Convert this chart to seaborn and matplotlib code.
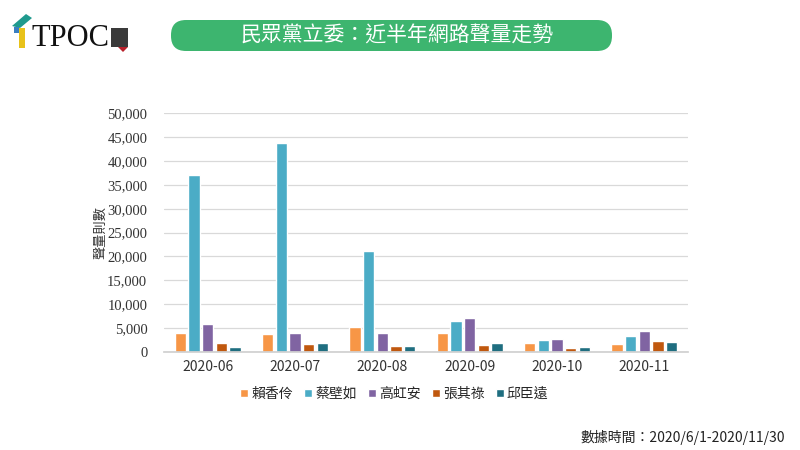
import numpy as np
import pandas as pd
import matplotlib.pyplot as plt
import seaborn as sns
from matplotlib.patches import FancyBboxPatch, Rectangle, Polygon

months = ['2020-06', '2020-07', '2020-08', '2020-09', '2020-10', '2020-11']
names = ['賴香伶', '蔡壁如', '高虹安', '張其祿', '邱臣遠']
lai = [4000, 3800, 5200, 4000, 1800, 1600]
tsai = [37000, 43700, 21100, 6400, 2500, 3300]
kao = [5800, 4000, 4000, 7100, 2700, 4300]
chang = [1800, 1650, 1250, 1500, 900, 2300]
chiu = [1050, 1800, 1250, 1900, 1100, 2100]
colors = ['#F79646', '#4BACC6', '#8064A2', '#C0580E', '#1F6E80']

df = pd.DataFrame({'月份': months * 5,
                   '姓名': sum([[n] * 6 for n in names], []),
                   '聲量': lai + tsai + kao + chang + chiu})

sns.set_theme(style='white')
plt.rcParams['font.family'] = ['Noto Sans CJK TC', 'DejaVu Sans']

fig = plt.figure(figsize=(8, 4.5), dpi=100)

# overlay in pixel coords for decorations
deco = fig.add_axes([0, 0, 1, 1])
deco.set_xlim(0, 800)
deco.set_ylim(450, 0)
deco.axis('off')

ax = fig.add_axes([0.205, 0.218, 0.655, 0.53])

sns.barplot(data=df, x='月份', y='聲量', hue='姓名', palette=colors,
            width=0.78, gap=0.16, ax=ax, saturation=1)

ax.set_ylim(0, 50000)
ax.set_yticks(np.arange(0, 50001, 5000))
ax.set_yticklabels([f'{v:,}' for v in range(0, 50001, 5000)], fontsize=10.5,
                   color='#333333', family='Liberation Serif')
ax.tick_params(axis='x', labelsize=10, colors='#333333', length=0, pad=6)
ax.tick_params(axis='y', length=0, pad=12)
ax.grid(axis='y', color='#d9d9d9', linewidth=0.9)
ax.set_axisbelow(True)
for s in ['top', 'right', 'left']:
    ax.spines[s].set_visible(False)
ax.spines['bottom'].set_color('#d0d0d0')
ax.set_xlabel('')
ax.set_ylabel('聲量則數', fontsize=9.5, color='#333333', labelpad=0)

ax.legend(loc='upper center', bbox_to_anchor=(0.44, -0.095), ncol=5, frameon=False,
          fontsize=10, handlelength=0.55, handleheight=0.55, handletextpad=0.25,
          columnspacing=0.8)

# title banner
deco.add_patch(FancyBboxPatch((171, 20), 441, 31,
                              boxstyle='round,pad=0,rounding_size=15',
                              facecolor='#3DB56F', edgecolor='none'))
deco.text(397, 36, '民眾黨立委：近半年網路聲量走勢', ha='center', va='center',
          fontsize=15, color='white')

# logo
deco.add_patch(Polygon([[12, 26], [26, 14], [32, 18], [20, 28]], closed=True,
                       facecolor='#1F9A8E', edgecolor='none'))
deco.add_patch(Rectangle((19, 28), 6, 20, facecolor='#E8C21A', edgecolor='none'))
deco.add_patch(Rectangle((14, 27), 5, 6, facecolor='#3A7FC1', edgecolor='none'))
deco.text(31, 38, 'TPOC', fontsize=22, family='Liberation Serif',
          color='#111111', va='center', ha='left')
deco.add_patch(Rectangle((111, 28), 17, 19, facecolor='#3a3a3a', edgecolor='none'))
deco.add_patch(Polygon([[118, 47], [128, 47], [123, 52]], closed=True,
                       facecolor='#B8202A', edgecolor='none'))

deco.text(785, 437, '數據時間：2020/6/1-2020/11/30', ha='right', va='center',
          fontsize=10, color='#222222')

fig.savefig('out.png', dpi=100)
